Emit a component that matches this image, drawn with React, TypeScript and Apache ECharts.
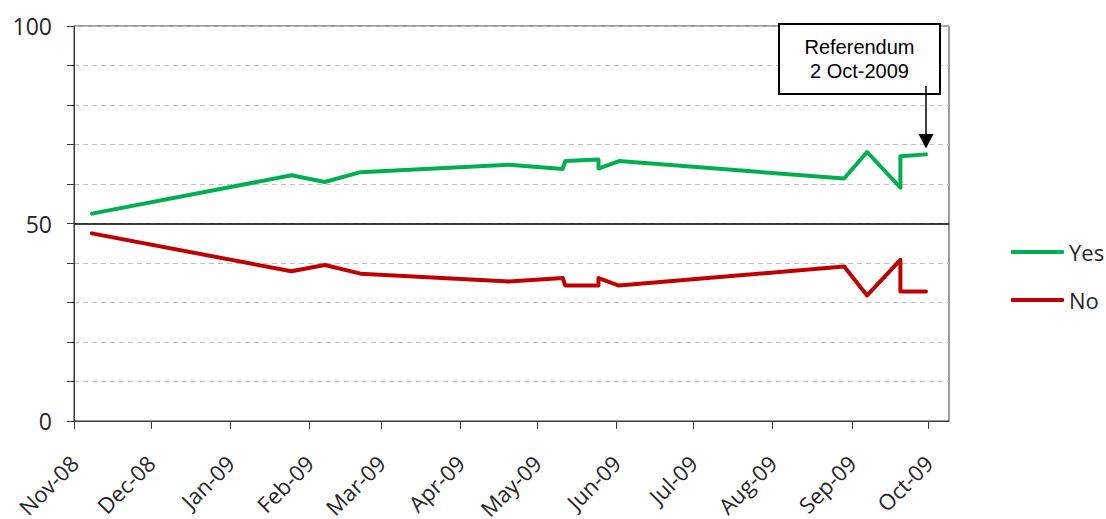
import React, { useEffect, useRef } from "react";
import * as echarts from "echarts";

const pollDates = [
  "2008-11-08", "2009-01-25", "2009-02-07", "2009-02-21", "2009-04-20",
  "2009-05-11", "2009-05-12", "2009-05-25", "2009-05-25", "2009-06-02",
  "2009-08-29", "2009-09-07", "2009-09-20", "2009-09-20", "2009-09-30",
];
const yesValues = [52.5, 62.2, 60.5, 63.0, 64.9, 63.8, 65.8, 66.2, 63.9, 65.8, 61.4, 68.1, 59.1, 67.0, 67.5];
const noValues = [47.5, 37.9, 39.5, 37.3, 35.3, 36.2, 34.3, 34.3, 36.2, 34.3, 39.1, 31.8, 40.8, 32.8, 32.8];

const tickDates = [
  "2008-11-01", "2008-12-01", "2009-01-01", "2009-02-01", "2009-03-01", "2009-04-01",
  "2009-05-01", "2009-06-01", "2009-07-01", "2009-08-01", "2009-09-01", "2009-10-01",
];
const tickLabels = [
  "Nov-08", "Dec-08", "Jan-09", "Feb-09", "Mar-09", "Apr-09",
  "May-09", "Jun-09", "Jul-09", "Aug-09", "Sep-09", "Oct-09",
];
const yLabelValues = [0, 50, 100];
const axisStart = "2008-11-01";
const axisEnd = "2009-10-09";
const annotationLines = ["Referendum", "2 Oct-2009"];

const ts = (d: string) => {
  const [y, m, day] = d.split("-").map(Number);
  return Date.UTC(y, m - 1, day);
};

export default function App() {
  const ref = useRef<HTMLDivElement>(null);
  useEffect(() => {
    document.body.style.margin = "0";
    if (!ref.current) return;
    const chart = echarts.init(ref.current, null, { renderer: "svg" });
    const tickTs = tickDates.map(ts);
    const labelFont = "'Open Sans', sans-serif";
    chart.setOption({
      animation: false,
      grid: {
        left: 74,
        right: 157,
        top: 26,
        bottom: 98,
        containLabel: false,
        outerBoundsMode: "none",
        show: true,
        borderColor: "#3a3a3a",
        borderWidth: 1,
      },
      legend: {
        orient: "vertical",
        left: 1006,
        top: 234,
        icon: "roundRect",
        itemWidth: 53,
        itemHeight: 4,
        itemGap: 22,
        data: ["Yes", "No"],
        textStyle: { fontFamily: labelFont, fontSize: 22, color: "#262626", lineHeight: 26 },
      },
      xAxis: {
        type: "value",
        min: ts(axisStart),
        max: ts(axisEnd),
        axisLine: { lineStyle: { color: "#3a3a3a", width: 1 } },
        axisTick: { show: true, length: 8, customValues: tickTs, lineStyle: { color: "#3a3a3a" } },
        axisLabel: {
          customValues: tickTs,
          rotate: 45,
          margin: 38,
          fontFamily: labelFont,
          fontSize: 22,
          color: "#262626",
          formatter: (v: number) => {
            const i = tickTs.indexOf(v);
            return i >= 0 ? tickLabels[i] : "";
          },
        },
        splitLine: { show: false },
      },
      yAxis: {
        type: "value",
        min: 0,
        max: 100,
        interval: 10,
        axisLine: { show: true, lineStyle: { color: "#3a3a3a", width: 1 } },
        axisTick: { show: true, length: 7, lineStyle: { color: "#3a3a3a" } },
        axisLabel: {
          customValues: yLabelValues,
          margin: 22,
          fontFamily: labelFont,
          fontSize: 23,
          color: "#262626",
        },
        splitLine: { show: true, lineStyle: { color: "#c0c0c0", type: [5, 4], width: 1 } },
      },
      series: [
        {
          name: "Yes",
          type: "line",
          data: pollDates.map((d, i) => [ts(d), yesValues[i]]),
          showSymbol: false,
          symbol: "none",
          color: "#00B050",
          lineStyle: { width: 4, color: "#00B050", cap: "round", join: "round" },
          markLine: {
            silent: true,
            symbol: ["none", "none"],
            label: { show: false },
            lineStyle: { color: "#000", width: 1.5, type: "solid" },
            data: [{ yAxis: 50 }],
          },
          z: 3,
        },
        {
          name: "No",
          type: "line",
          data: pollDates.map((d, i) => [ts(d), noValues[i]]),
          showSymbol: false,
          symbol: "none",
          color: "#C00000",
          lineStyle: { width: 4, color: "#C00000", cap: "round", join: "round" },
          z: 3,
        },
      ],
      graphic: [
        {
          type: "rect",
          shape: { x: 779, y: 24, width: 161, height: 70 },
          style: { fill: "#fff", stroke: "#000", lineWidth: 2 },
          z: 10,
        },
        {
          type: "text",
          x: 859.5,
          y: 47,
          style: {
            text: annotationLines[0],
            font: "20px 'Liberation Sans', Arial, sans-serif",
            fill: "#000",
            align: "center",
            verticalAlign: "middle",
          },
          z: 11,
        },
        {
          type: "text",
          x: 859.5,
          y: 71,
          style: {
            text: annotationLines[1],
            font: "20px 'Liberation Sans', Arial, sans-serif",
            fill: "#000",
            align: "center",
            verticalAlign: "middle",
          },
          z: 11,
        },
        {
          type: "line",
          shape: { x1: 926, y1: 86, x2: 926, y2: 136 },
          style: { stroke: "#000", lineWidth: 1.5 },
          z: 12,
        },
        {
          type: "polygon",
          shape: { points: [[918.5, 134], [933.5, 134], [926, 148.5]] },
          style: { fill: "#000" },
          z: 12,
        },
      ],
    });
    return () => chart.dispose();
  }, []);
  return <div ref={ref} style={{ width: 1106, height: 519 }} />;
}
